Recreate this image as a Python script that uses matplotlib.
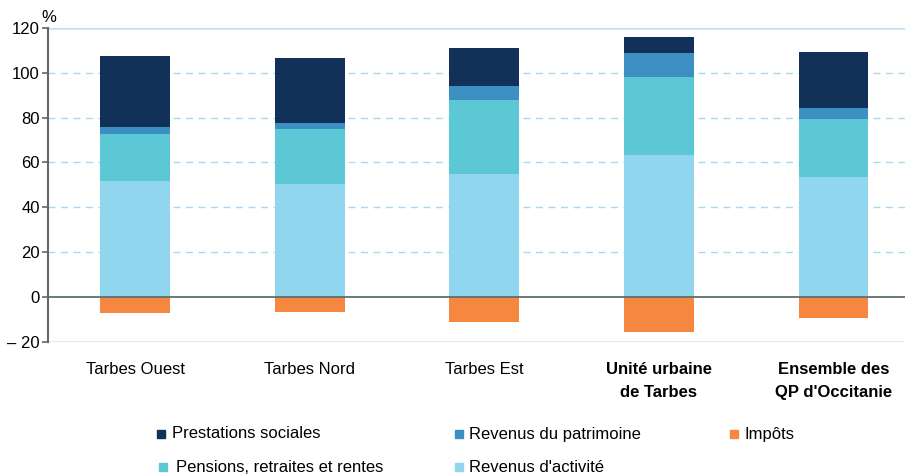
import matplotlib
matplotlib.use("Agg")
import matplotlib.pyplot as plt
from matplotlib.patches import Rectangle
import numpy as np

plt.rcParams['font.family'] = ['Liberation Sans Narrow', 'Liberation Sans', 'DejaVu Sans']

categories = ["Tarbes Ouest", "Tarbes Nord", "Tarbes Est",
              "Unité urbaine\nde Tarbes", "Ensemble des\nQP d'Occitanie"]
bold_cats = [False, False, False, True, True]

activite = [51.7, 50.3, 54.8, 63.3, 53.5]
pensions = [21.0, 24.6, 33.0, 34.8, 25.9]
patrimoine = [3.1, 2.7, 6.3, 10.7, 4.9]
prestations = [31.7, 29.0, 17.0, 7.2, 25.0]
impots = [-7.1, -6.8, -11.3, -15.8, -9.5]

yticks = [-20, 0, 20, 40, 60, 80, 100, 120]
ytick_labels = ["\u2013 20", "0", "20", "40", "60", "80", "100", "120"]

c_act = "#8fd6ee"
c_pen = "#5cc8d5"
c_pat = "#3b8fc3"
c_pre = "#123158"
c_imp = "#f68741"

fig = plt.figure(figsize=(9.05, 4.76), dpi=100)
ax = fig.add_axes([48 / 905, 1 - 341.7 / 476, 1 - 48 / 905, (341.7 - 28) / 476])

x = np.arange(len(categories))
w = 0.40
bottom = np.zeros(len(categories))
for vals, col in [(activite, c_act), (pensions, c_pen), (patrimoine, c_pat), (prestations, c_pre)]:
    ax.bar(x, vals, w, bottom=bottom, color=col, zorder=3)
    bottom += np.array(vals)
ax.bar(x, impots, w, color=c_imp, zorder=3)

ax.set_xlim(-0.5, 4.41)
ax.set_ylim(-20, 120)

# grid
for yv in [20, 40, 60, 80, 100]:
    ax.axhline(yv, color="#a8d8f2", lw=1.0, ls=(0, (5, 4)), zorder=1)
ax.axhline(120, color="#c4def0", lw=1.8, zorder=1)
ax.axhline(-20, color="#cfe5f5", lw=1.8, zorder=1)
ax.axhline(0, color="#5e6e70", lw=1.3, zorder=4)

for s in ["top", "right", "bottom"]:
    ax.spines[s].set_visible(False)
ax.spines["left"].set_color("#666666")
ax.spines["left"].set_linewidth(1.5)

ax.set_yticks(yticks)
ax.set_yticklabels(ytick_labels, fontsize=12)
ax.tick_params(axis="y", length=4, width=1.2, color="#666666", pad=2)
ax.set_xticks([])

fig.text(41 / 905, 1 - 18 / 476, "%", fontsize=12, ha="left", va="center")

for i, (lab, b) in enumerate(zip(categories, bold_cats)):
    ax.text(i, -29, lab, ha="center", va="top", fontsize=12,
            fontweight="bold" if b else "normal", linespacing=1.7)

# legend
legend_items = [
    ("Prestations sociales", c_pre, 161, 434, 172),
    ("Revenus du patrimoine", c_pat, 459, 434, 469),
    ("Impôts", c_imp, 734, 434, 744),
    ("Pensions, retraites et rentes", c_pen, 163, 467, 176),
    ("Revenus d'activité", c_act, 459, 467, 469),
]
for lab, col, mx, my, tx in legend_items:
    fig.patches.append(Rectangle(((mx - 4) / 905, 1 - (my + 4) / 476), 8 / 905, 8 / 476,
                                 transform=fig.transFigure, color=col, figure=fig))
    fig.text(tx / 905, 1 - my / 476, lab, fontsize=12, ha="left", va="center")

fig.savefig("out.png", dpi=100)
